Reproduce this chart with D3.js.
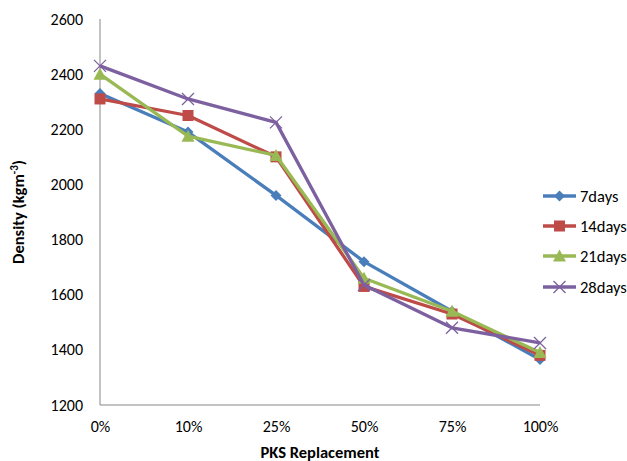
<!DOCTYPE html>
<html><head><meta charset="utf-8">
<script src="https://cdn.jsdelivr.net/npm/d3@7"></script>
<style>body{margin:0;background:#fff}svg text{font-family:Carlito,"Open Sans","Liberation Sans",sans-serif;}</style>
</head><body>
<svg id="c" width="627" height="461"></svg>
<script>
const categories = ["0%","10%","25%","50%","75%","100%"];
const days7  = [2330, 2190, 1960, 1720, 1540, 1365];
const days14 = [2310, 2250, 2100, 1630, 1530, 1380];
const days21 = [2400, 2175, 2105, 1660, 1540, 1390];
const days28 = [2430, 2310, 2225, 1635, 1480, 1425];
const seriesNames = ["7days","14days","21days","28days"];
const yTicks = [1200,1400,1600,1800,2000,2200,2400,2600];

const series = [
  {name: seriesNames[0], values: days7,  color: "#4A7EBB", marker: "diamond"},
  {name: seriesNames[1], values: days14, color: "#BE4B48", marker: "square"},
  {name: seriesNames[2], values: days21, color: "#98B954", marker: "triangle"},
  {name: seriesNames[3], values: days28, color: "#7D60A0", marker: "x"}
];

const svg = d3.select("#c");
const pLeft = 100, pRight = 540, pTop = 19, pBottom = 405;
const x = d3.scalePoint().domain(categories).range([pLeft, pRight]);
const y = d3.scaleLinear().domain([1200, 2600]).range([pBottom, pTop]);
const fontFam = 'Carlito,"Open Sans","Liberation Sans",sans-serif';
const fs = 16;

// axes
const axisColor = "#868686";
svg.append("line").attr("x1", pLeft).attr("x2", pLeft).attr("y1", pTop).attr("y2", pBottom)
  .attr("stroke", axisColor).attr("stroke-width", 1);
svg.append("line").attr("x1", pLeft).attr("x2", pRight).attr("y1", pBottom).attr("y2", pBottom)
  .attr("stroke", axisColor).attr("stroke-width", 1);

const yAxis = d3.axisLeft(y).tickValues(yTicks).tickSize(0).tickPadding(17).tickFormat(d3.format("d"));
const gy = svg.append("g").attr("transform", `translate(${pLeft},0)`).call(yAxis);
gy.select(".domain").remove();
gy.selectAll("text").attr("font-size", fs).attr("fill", "#000").style("font-family", fontFam);

const xAxis = d3.axisBottom(x).tickSize(0).tickPadding(16);
const gx = svg.append("g").attr("transform", `translate(0,${pBottom})`).call(xAxis);
gx.select(".domain").remove();
gx.selectAll("text").attr("font-size", fs).attr("fill", "#000").style("font-family", fontFam);

// titles
svg.append("text").attr("x", 320).attr("y", 458).attr("text-anchor", "middle")
  .attr("font-size", 16.5).attr("font-weight", "bold").text("PKS Replacement");
const yt = svg.append("text").attr("transform", "translate(24,212) rotate(-90)")
  .attr("text-anchor", "middle").attr("font-size", 16.5).attr("font-weight", "bold");
yt.append("tspan").text("Density (kgm");
yt.append("tspan").attr("font-size", 11).attr("dy", -6).text("-3");
yt.append("tspan").attr("dy", 6).text(")");

function drawMarker(g, type, cx, cy, color, s) {
  if (type === "diamond") {
    g.append("path").attr("d", `M${cx},${cy-s}L${cx+s},${cy}L${cx},${cy+s}L${cx-s},${cy}Z`).attr("fill", color);
  } else if (type === "square") {
    g.append("rect").attr("x", cx-s).attr("y", cy-s).attr("width", 2*s).attr("height", 2*s).attr("fill", color);
  } else if (type === "triangle") {
    g.append("path").attr("d", `M${cx},${cy-s-1}L${cx+s+1},${cy+s}L${cx-s-1},${cy+s}Z`).attr("fill", color);
  } else {
    g.append("path").attr("d", `M${cx-s},${cy-s}L${cx+s},${cy+s}M${cx-s},${cy+s}L${cx+s},${cy-s}`)
      .attr("stroke", color).attr("stroke-width", 1.3).attr("fill", "none");
  }
}
const markerSize = {diamond: 5.5, square: 5.5, triangle: 5.5, x: 6};

const line = d3.line().x((d, i) => x(categories[i])).y(d => y(d));
series.forEach(s => {
  const g = svg.append("g");
  g.append("path").datum(s.values).attr("d", line).attr("fill", "none")
    .attr("stroke", s.color).attr("stroke-width", 3.3).attr("stroke-linejoin", "round");
  s.values.forEach((v, i) => drawMarker(g, s.marker, x(categories[i]), y(v), s.color, markerSize[s.marker]));
});

// legend
const legY = [196, 226, 256, 287];
series.forEach((s, i) => {
  const g = svg.append("g");
  const ly = legY[i];
  g.append("line").attr("x1", 543).attr("x2", 576).attr("y1", ly).attr("y2", ly)
    .attr("stroke", s.color).attr("stroke-width", 3.3);
  drawMarker(g, s.marker, 559.5, ly, s.color, markerSize[s.marker]);
  g.append("text").attr("x", 580).attr("y", ly + 6).attr("font-size", 16.5).text(s.name);
});
</script>
</body></html>
